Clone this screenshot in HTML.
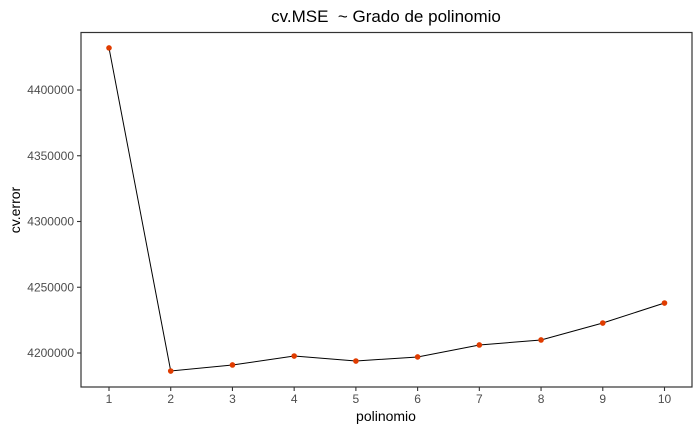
<!DOCTYPE html>
<html><head><meta charset="utf-8"><style>
body{margin:0;background:#fff;}
svg text{font-family:"Liberation Sans",Arial,sans-serif;}
</style></head><body>
<svg width="700" height="432" xmlns="http://www.w3.org/2000/svg">
<rect width="700" height="432" fill="#fff"/>
<text x="386" y="22" text-anchor="middle" font-size="17" fill="#000">cv.MSE&#160; ~ Grado de polinomio</text>
<rect x="81" y="32.5" width="611" height="354.5" fill="none" stroke="#333" stroke-width="1.2"/>
<g id="yaxis"></g>
<g id="xaxis"></g>
<g id="marks"></g>
<text x="386" y="421" text-anchor="middle" font-size="14" fill="#000">polinomio</text>
<text transform="translate(20,210) rotate(-90)" text-anchor="middle" font-size="14" fill="#000">cv.error</text>
</svg>
<script>
const categories=[1,2,3,4,5,6,7,8,9,10];
const cvError=[4432000,4186300,4190900,4197700,4193900,4197000,4206100,4209900,4222800,4238000];
const yTicks=[4200000,4250000,4300000,4350000,4400000];
const NS="http://www.w3.org/2000/svg";
function xs(v){return 109+(v-1)*(664.5-109)/9;}
function ys(v){return 353-(v-4200000)*(263/200000);}
function mk(t,a,p){const e=document.createElementNS(NS,t);for(const k in a)e.setAttribute(k,a[k]);p.appendChild(e);return e;}
const ya=document.getElementById('yaxis'),xa=document.getElementById('xaxis'),m=document.getElementById('marks');
yTicks.forEach(v=>{
 const l=mk('line',{x1:77,x2:81,y1:ys(v),y2:ys(v),stroke:'#333','stroke-width':1.1},ya);
 
 
 const t=mk('text',{x:74,y:ys(v)+4,'text-anchor':'end','font-size':12,fill:'#4d4d4d'},ya);
 t.textContent=v;
 
 
});
categories.forEach(c=>{
 const l=mk('line',{x1:xs(c),x2:xs(c),y1:387,y2:391,stroke:'#333','stroke-width':1.1},xa);
 
 
 const t=mk('text',{x:xs(c),y:403,'text-anchor':'middle','font-size':12,fill:'#4d4d4d'},xa);
 t.textContent=c;
 
 
});
const pts=categories.map((c,i)=>xs(c)+','+ys(cvError[i])).join(' ');
const pl=mk('polyline',{points:pts,fill:'none',stroke:'#000','stroke-width':1},m);


categories.forEach((c,i)=>{
 const p=mk('circle',{cx:xs(c),cy:ys(cvError[i]),r:2.8,fill:'#e03c00'},m);
 
 
});
</script>
</body></html>
